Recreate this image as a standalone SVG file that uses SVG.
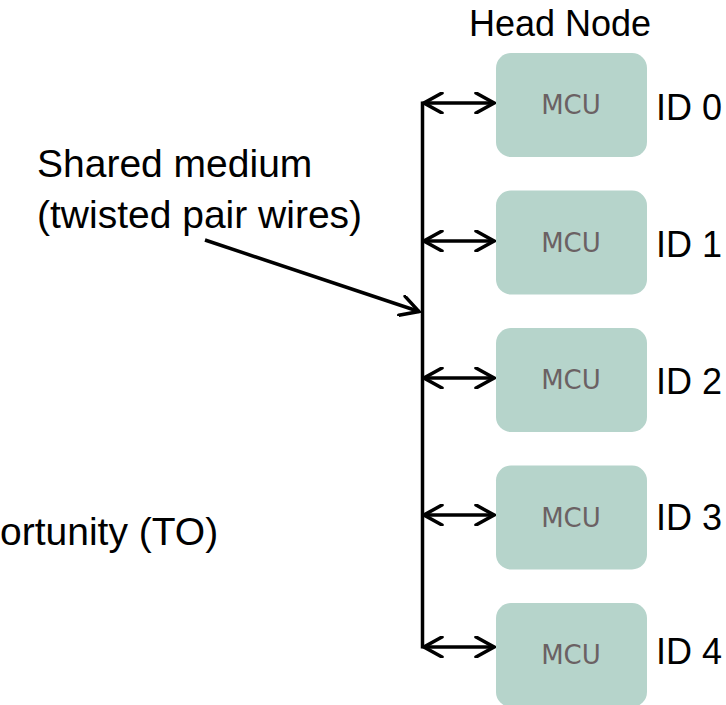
<svg xmlns="http://www.w3.org/2000/svg" width="726" height="705" viewBox="0 0 726 705">
<style>
.box{fill:#b6d4cb;}
.mcu{font-family:"DejaVu Sans",Verdana,sans-serif;font-size:26px;fill:#6b6163;text-anchor:middle;}
.lbl{font-family:"Liberation Sans",Arial,sans-serif;font-size:36px;fill:#000;}
.big{font-size:39px;}
.wire{stroke:#000;stroke-width:3.5;fill:none;}
</style>
<defs>
<marker id="ah" viewBox="0 0 22 22" refX="20" refY="11" markerWidth="22" markerHeight="22" markerUnits="userSpaceOnUse" orient="auto-start-reverse">
<path d="M2,1 L20,11 L2,21" fill="none" stroke="#000" stroke-width="3.5" stroke-linecap="round" stroke-linejoin="miter"/>
</marker>
</defs>
<rect width="726" height="705" fill="#fff"/>
<text class="lbl" x="560" y="36" text-anchor="middle">Head Node</text>
<g id="node0"><rect class="box" x="496" y="53" width="151" height="104" rx="15"/><text class="mcu" x="571" y="114">MCU</text><text class="lbl" x="656" y="120">ID 0</text></g>
<g id="node1"><rect class="box" x="496" y="190.5" width="151" height="104" rx="15"/><text class="mcu" x="571" y="251.5">MCU</text><text class="lbl" x="656" y="257">ID 1</text></g>
<g id="node2"><rect class="box" x="496" y="328" width="151" height="104" rx="15"/><text class="mcu" x="571" y="389">MCU</text><text class="lbl" x="656" y="394">ID 2</text></g>
<g id="node3"><rect class="box" x="496" y="465.5" width="151" height="104" rx="15"/><text class="mcu" x="571" y="526.5">MCU</text><text class="lbl" x="656" y="530">ID 3</text></g>
<g id="node4"><rect class="box" x="496" y="603" width="151" height="104" rx="15"/><text class="mcu" x="571" y="664">MCU</text><text class="lbl" x="656" y="664">ID 4</text></g>
<g id="labels">
<text class="lbl big" x="37" y="177">Shared medium</text>
<text class="lbl big" x="37" y="228">(twisted pair wires)</text>
<text class="lbl big" x="0" y="545">ortunity (TO)</text>
</g>
<g id="connectors">
<line class="wire" x1="422.5" y1="101.5" x2="422.5" y2="648.5"/>
<line class="wire" x1="424" y1="103" x2="494" y2="103" marker-start="url(#ah)" marker-end="url(#ah)"/>
<line class="wire" x1="424" y1="241" x2="494" y2="241" marker-start="url(#ah)" marker-end="url(#ah)"/>
<line class="wire" x1="424" y1="378" x2="494" y2="378" marker-start="url(#ah)" marker-end="url(#ah)"/>
<line class="wire" x1="424" y1="515" x2="494" y2="515" marker-start="url(#ah)" marker-end="url(#ah)"/>
<line class="wire" x1="424" y1="647" x2="494" y2="647" marker-start="url(#ah)" marker-end="url(#ah)"/>
<line class="wire" x1="205" y1="240" x2="419" y2="311.5" marker-end="url(#ah)"/>
</g>
</svg>
